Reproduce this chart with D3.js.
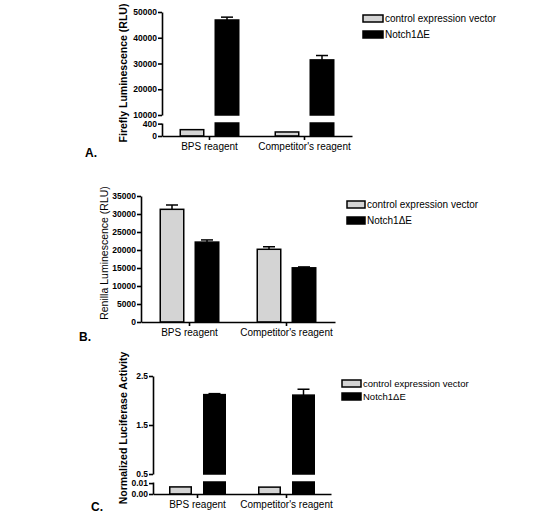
<!DOCTYPE html>
<html lang="en">
  <head>
    <meta charset="UTF-8" />
    <title>Luciferase reporter assay</title>
    <script src="https://d3js.org/d3.v7.min.js"></script>
    <style>
      body { margin: 0; background: #fff; }
      text { font-family: "Liberation Sans", Arial, sans-serif; }
    </style>
  </head>

  <body>
    <svg width="545" height="521"></svg>

    <script>
      // data
      const groups = ["BPS reagent", "Competitor's reagent"];
      const seriesNames = ["control expression vector", "Notch1\u0394E"];
      const seriesFill = ["#d4d4d4", "#000000"];

      const fireflyControl = [205, 130];
      const fireflyControlErr = [0, 0];
      const fireflyNotch = [46900, 31400];
      const fireflyNotchErr = [1100, 1700];
      const fireflyTicksLow = [0, 400];
      const fireflyTicksHigh = [10000, 20000, 30000, 40000, 50000];

      const renillaControl = [31300, 20200];
      const renillaControlErr = [1200, 700];
      const renillaNotch = [22200, 15050];
      const renillaNotchErr = [600, 250];
      const renillaTicks = [0, 5000, 10000, 15000, 20000, 25000, 30000, 35000];

      const normControl = [0.0065, 0.0063];
      const normControlErr = [0, 0];
      const normNotch = [2.12, 2.11];
      const normNotchErr = [0.02, 0.12];
      const normTicksLow = [0, 0.01];
      const normTicksHigh = [0.5, 1.5, 2.5];

      let svg = d3.select("svg");

      const panels = [
        {
          letter: "A.", lx: 85, ly: 157,
          title: "Firefly Luminescence (RLU)", tx: 127, ty: 73, tsize: 10.5, tbold: true,
          x0: 162, x1: 352, barW: 25, gap: 10,
          values: [fireflyControl, fireflyNotch], errs: [fireflyControlErr, fireflyNotchErr],
          segments: [
            { domain: [0, 420], range: [136, 123], ticks: fireflyTicksLow, fmt: d3.format("d") },
            { domain: [10000, 50000], range: [115, 12], ticks: fireflyTicksHigh, fmt: d3.format("d") },
          ],
          legend: { x: 363, y: 15, w: 20, h: 7, dy: 16, size: 10 },
        },
        {
          letter: "B.", lx: 79, ly: 341,
          title: "Renilla Luminescence (RLU)", tx: 108, ty: 253, tsize: 10.5, tbold: false,
          x0: 141, x1: 335, barW: 25, gap: 10,
          values: [renillaControl, renillaNotch], errs: [renillaControlErr, renillaNotchErr],
          segments: [
            { domain: [0, 35000], range: [322, 196], ticks: renillaTicks, fmt: d3.format("d") },
          ],
          legend: { x: 347, y: 201, w: 18, h: 7, dy: 16, size: 10 },
        },
        {
          letter: "C.", lx: 91, ly: 511,
          title: "Normalized Luciferase Activity", tx: 127, ty: 428, tsize: 10.5, tbold: true,
          x0: 153, x1: 331, barW: 23, gap: 11,
          values: [normControl, normNotch], errs: [normControlErr, normNotchErr],
          segments: [
            { domain: [0, 0.011], range: [494, 482], ticks: normTicksLow, fmt: d3.format(".2f") },
            { domain: [0.5, 2.5], range: [474, 376], ticks: normTicksHigh, fmt: d3.format(".1f") },
          ],
          legend: { x: 342, y: 380, w: 19, h: 7, dy: 13, size: 9.5 },
        },
      ];

      function drawPanel(p) {
        let g = svg.append("g");

        let xGroup = d3.scaleBand().domain(groups).range([p.x0, p.x1]).padding(0);
        let step = p.barW + p.gap;
        let inner = d3
          .scaleBand()
          .domain(seriesNames)
          .range([0, xGroup.bandwidth()])
          .paddingInner(p.gap / step)
          .paddingOuter((xGroup.bandwidth() - 2 * p.barW - p.gap) / 2 / step);

        let baseline = p.segments[0].range[0];

        p.segments.forEach(function (seg) {
          let y = d3.scaleLinear().domain(seg.domain).range(seg.range);

          // bars clipped to this segment
          seriesNames.forEach(function (s, si) {
            g.append("g")
              .selectAll("rect")
              .data(groups.filter((d, gi) => p.values[si][gi] > seg.domain[0]))
              .enter()
              .append("rect")
              .attr("x", (d) => xGroup(d) + inner(s) + 0.75)
              .attr("width", inner.bandwidth() - 1.5)
              .attr("y", function (d) {
                let v = p.values[si][groups.indexOf(d)];
                return y(Math.min(v, seg.domain[1]));
              })
              .attr("height", function (d) {
                let v = p.values[si][groups.indexOf(d)];
                return y(seg.domain[0]) - y(Math.min(v, seg.domain[1]));
              })
              .attr("fill", seriesFill[si])
              .attr("stroke", "#000")
              .attr("stroke-width", 1.5);

            // error bars (upper only) in the segment holding the bar top
            groups.forEach(function (d, gi) {
              let v = p.values[si][gi];
              let e = p.errs[si][gi];
              if (e <= 0 || v < seg.domain[0] || v > seg.domain[1]) return;
              let cx = xGroup(d) + inner(s) + inner.bandwidth() / 2;
              g.append("line")
                .attr("x1", cx).attr("x2", cx)
                .attr("y1", y(v)).attr("y2", y(v + e))
                .attr("stroke", "#000").attr("stroke-width", 1.5);
              g.append("line")
                .attr("x1", cx - 6).attr("x2", cx + 6)
                .attr("y1", y(v + e)).attr("y2", y(v + e))
                .attr("stroke", "#000").attr("stroke-width", 1.5);
            });
          });

          let ax = g
            .append("g")
            .attr("transform", `translate(${p.x0},0)`)
            .call(
              d3.axisLeft(y).tickValues(seg.ticks).tickFormat(seg.fmt)
                .tickSize(4).tickSizeOuter(0).tickPadding(1)
            );
          ax.selectAll("path, line").attr("stroke", "#000").attr("stroke-width", 1.6);
          ax.selectAll("text")
            .attr("fill", "#000")
            .style("font-size", "8.5px")
            .style("font-weight", "bold")
            .style("font-family", "'Liberation Sans', Arial, sans-serif");
        });

        let xa = g
          .append("g")
          .attr("transform", `translate(0,${baseline})`)
          .call(d3.axisBottom(xGroup).tickSize(4).tickSizeOuter(0).tickPadding(3));
        xa.selectAll("path, line").attr("stroke", "#000").attr("stroke-width", 1.6);
        xa.selectAll("text")
          .attr("fill", "#000")
          .style("font-size", "10px")
          .style("font-family", "'Liberation Sans', Arial, sans-serif");

        g.append("text")
          .attr("transform", `translate(${p.tx},${p.ty}) rotate(-90)`)
          .attr("text-anchor", "middle")
          .style("font-size", p.tsize + "px")
          .style("font-weight", p.tbold ? "bold" : "normal")
          .text(p.title);

        g.append("text")
          .attr("x", p.lx)
          .attr("y", p.ly)
          .style("font-size", "12px")
          .style("font-weight", "bold")
          .text(p.letter);

        // legend
        let L = p.legend;
        let lg = g.append("g").selectAll("g").data(seriesNames).enter().append("g")
          .attr("transform", (d, i) => `translate(${L.x},${L.y + i * L.dy})`);
        lg.append("rect")
          .attr("width", L.w)
          .attr("height", L.h)
          .attr("fill", (d, i) => seriesFill[i])
          .attr("stroke", "#000")
          .attr("stroke-width", 1.5);
        lg.append("text")
          .attr("x", L.w + 2)
          .attr("y", L.h)
          .style("font-size", L.size + "px")
          .text((d) => d);
      }

      panels.forEach(drawPanel);
    </script>
  </body>
</html>
